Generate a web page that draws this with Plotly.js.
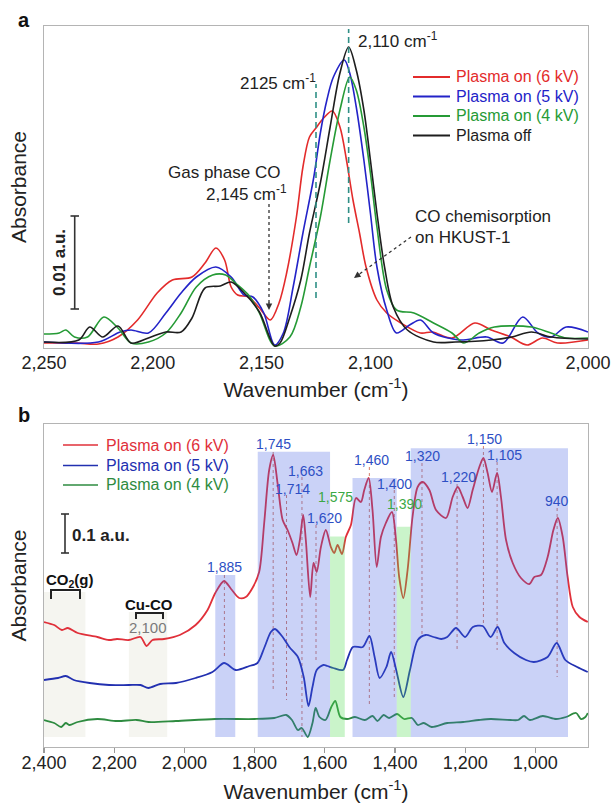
<!DOCTYPE html>
<html><head><meta charset="utf-8">
<script src="https://cdn.plot.ly/plotly-3.0.1.min.js"></script>
<style>html,body{margin:0;padding:0;background:#fff;} #chart{width:616px;height:803px;}</style>
</head><body><div id="chart"></div>
<script>
// ---------------- Panel a data (wavenumber cm-1, absorbance in arbitrary units; scale bar 0.01 a.u. = 93 units) -------------
const wnA_red = [2250, 2235, 2225, 2216, 2207, 2198, 2191, 2182, 2176, 2171, 2167, 2164, 2161, 2156, 2151, 2146, 2142, 2138.5, 2134, 2131, 2128, 2125, 2121.5, 2117.5, 2114, 2111, 2108, 2105, 2102, 2097, 2092.5, 2086, 2077, 2071.5, 2062.5, 2052, 2044.5, 2035.5, 2028, 2021, 2014, 2000];
const absA_red = [5, 5, 4, 11, 28, 55, 68, 71, 85, 100, 88, 61, 53, 51, 40, 28, 45, 75, 131, 181, 211, 220, 230, 237, 221, 188, 148, 115, 81, 48, 35, 25, 15, 16, 10, 25, 18, 11, 3, 10, 5, 8];
const wnA_blue = [2250, 2225, 2215, 2210, 2202, 2194, 2187, 2180, 2171, 2164, 2158, 2154, 2149, 2144, 2140, 2135.5, 2131, 2126, 2123, 2120, 2117, 2112, 2109.5, 2106.5, 2103, 2100, 2097, 2092.5, 2088, 2082, 2077, 2071, 2059, 2046.5, 2039, 2030, 2023, 2017, 2010, 2000];
const absA_blue = [6, 6, 16, 18, 15, 35, 55, 71, 81, 71, 53, 51, 35, 3, 15, 61, 115, 171, 215, 248, 271, 288, 275, 241, 188, 135, 81, 38, 15, 23, 28, 15, 8, 11, 5, 31, 15, 11, 21, 16];
const wnA_green = [2250, 2243, 2240, 2236, 2230, 2222.5, 2216, 2210, 2202, 2194, 2187, 2180, 2172.5, 2166.5, 2162, 2156, 2151, 2144, 2137, 2132, 2128, 2123, 2118.5, 2114, 2109.5, 2106.5, 2103, 2100, 2097, 2092.5, 2088, 2080, 2071, 2062.5, 2057, 2050, 2043, 2026, 2017, 2010, 2000];
const absA_green = [14, 15, 18, 11, 11, 31, 20, 5, 6, 15, 35, 61, 73, 73, 65, 53, 35, 2, 11, 41, 81, 131, 188, 238, 271, 258, 221, 175, 121, 58, 38, 35, 25, 15, 5, 15, 21, 21, 15, 10, 10];
const wnA_off = [2250, 2234, 2229, 2223, 2216, 2210, 2202, 2194, 2187, 2182, 2176, 2169, 2164, 2158, 2151, 2144, 2141.5, 2137, 2132, 2128, 2123, 2118.5, 2114, 2110, 2106.5, 2103, 2100, 2097, 2093.5, 2089.5, 2083, 2071, 2061, 2044.5, 2035, 2026, 2017, 2000];
const absA_off = [6, 8, 21, 11, 22, 5, 10, 16, 16, 30, 60, 62, 66, 55, 36, 2, 5, 31, 68, 115, 165, 221, 275, 301, 278, 238, 188, 135, 81, 41, 18, 6, 6, 8, 11, 16, 11, 9];
const ticksA = [2250, 2200, 2150, 2100, 2050, 2000];
const tickTextA = ['2,250', '2,200', '2,150', '2,100', '2,050', '2,000'];
const markA = [2125, 2110];
const seriesA = ['Plasma on (6 kV)', 'Plasma on (5 kV)', 'Plasma on (4 kV)', 'Plasma off'];

// ---------------- Panel b data -------------
const wnB_red = [2400, 2371, 2349, 2332, 2304, 2248, 2215, 2192, 2158.5, 2125, 2108, 2091, 2058, 2013, 1968, 1934, 1912, 1887, 1867, 1844, 1825, 1806, 1787, 1772.6, 1758.4, 1747, 1734.6, 1720, 1706, 1692, 1680.5, 1671, 1661.5, 1654, 1641.5, 1632, 1623, 1611, 1597, 1582.6, 1573, 1563.5, 1551, 1540, 1525.5, 1511, 1497, 1487.5, 1475, 1464, 1452, 1440, 1426, 1408.6, 1397, 1388, 1376, 1364, 1350, 1335.4, 1321, 1302, 1283, 1254.6, 1235.6, 1221, 1207, 1193, 1178.6, 1159.6, 1148, 1136, 1123.5, 1109, 1098, 1083.5, 1064.5, 1041, 1017, 1003, 984, 965, 948.6, 936, 922, 908, 893.4, 874.4, 850.7];
const absB_red = [125, 122, 117, 119, 114, 110, 107, 108, 107, 110, 101, 107, 108, 112, 122, 137, 154, 166, 158, 149, 150, 159, 175, 224, 277, 292, 264, 227, 217, 204, 192, 207, 232, 207, 150, 184, 175, 200, 217, 200, 194, 202, 193, 210, 222, 249, 245, 257, 269, 237, 180, 210, 224, 235, 207, 170, 149, 177, 230, 260, 265, 257, 237, 229, 250, 260, 250, 239, 257, 280, 289, 274, 255, 274, 250, 207, 184, 169, 163, 170, 172, 190, 217, 229, 210, 170, 140, 130, 125];
const wnB_blue = [2400, 2360, 2338, 2315, 2270, 2214.5, 2158.5, 2125, 2102.5, 2069, 2024, 1968, 1920, 1886.7, 1853.5, 1815, 1791.7, 1772.6, 1753.6, 1742, 1720, 1701, 1676.6, 1660, 1646.4, 1635, 1623, 1604, 1592.6, 1575.8, 1548, 1536.5, 1519.8, 1491.8, 1472.7, 1458, 1443.6, 1424.5, 1411, 1396.5, 1376.3, 1357.3, 1335, 1312.5, 1290, 1268, 1251, 1226, 1200.4, 1178, 1150, 1127.5, 1107.4, 1088.3, 1060.3, 1026.7, 1004, 965, 939.3, 914.6, 881, 850.8];
const absB_blue = [67, 69, 71, 67, 64, 62, 62, 62, 59, 63, 64, 69, 75, 84, 77, 81, 84, 99, 115, 118, 110, 100, 90, 70, 41, 60, 77, 82, 81, 79, 77, 87, 100, 100, 111, 90, 69, 80, 95, 77, 50, 77, 107, 112, 110, 108, 110, 119, 110, 120, 121, 110, 120, 104, 94, 87, 85, 90, 104, 87, 80, 75];
const wnB_green = [2400, 2371, 2351, 2338, 2327, 2304, 2248, 2192, 2136, 2102.5, 2024, 1912, 1800, 1744, 1710, 1693.5, 1676.6, 1665.5, 1648.6, 1635, 1626, 1615, 1598, 1581.4, 1570, 1555.6, 1536.5, 1514, 1486, 1464, 1450, 1432.4, 1416.6, 1394, 1374, 1351.7, 1335, 1318, 1295.6, 1251, 1206, 1161, 1127.5, 1071.5, 1049, 1032.3, 1015.5, 979, 941, 912.5, 884, 870, 857.4, 850.7];
const absB_green = [27, 24, 20, 24, 22, 25, 28, 26, 27, 25, 26, 28, 28, 29, 32, 27, 17, 19, 10, 24, 39, 30, 27, 40, 46, 30, 28, 30, 27, 31, 26, 32, 29, 33, 28, 29, 22, 24, 20, 24, 25, 27, 28, 27, 27, 31, 27, 31, 28, 30, 34, 28, 30, 34];
const ticksB = [2400, 2200, 2000, 1800, 1600, 1400, 1200, 1000];
const tickTextB = ['2,400', '2,200', '2,000', '1,800', '1,600', '1,400', '1,200', '1,000'];
const seriesB = ['Plasma on (6 kV)', 'Plasma on (5 kV)', 'Plasma on (4 kV)'];
// assigned bands (start, end wavenumber) and kinds
const bandStart = [1912, 1791, 1585, 1521, 1395, 1355];
const bandEnd   = [1855, 1585, 1543, 1395, 1355, 907];
const bandKind  = ['b', 'b', 'g', 'b', 'g', 'b'];
const grayStart = [2400, 2158];
const grayEnd   = [2282, 2049];
// marked peaks (dotted lines) and their labels
const peakWn    = [1886, 1747, 1709, 1665, 1625, 1473, 1402, 1323, 1223, 1148, 1109, 938];
const peakLabel = ['1,885', '1,745', '1,714', '1,663', '1,620', '1,575', '1,460', '1,400', '1,390', '1,320', '1,220', '1,150', '1,105', '940'];

// ---------------- layout helpers -------------
const FONT = 'Liberation Sans, Arial, Helvetica, sans-serif';
const W = 616, H = 803;
const M = {l: 44, r: 28, t: 26, b: 56};
const PX = x => (x - M.l) / (W - M.l - M.r);
const PY = y => (H - M.b - y) / (H - M.t - M.b);
const A_BOT = 348, A_TOP = 26, B_BOT = 747, B_TOP = 424;
const yA = y => A_BOT - y;   // pixel -> panel a value
const yB = y => B_BOT - y;   // pixel -> panel b value

const C = {
  aRed: '#e32b2b', aBlue: '#2323c8', aGreen: '#259a35', aBlack: '#1e1e1e',
  bRed: '#e0303a', bBlue: '#2230b0', bGreen: '#2e8b40',
  lblBlue: '#2d4fc4', lblGreen: '#3aa845', teal: '#2f8f86'
};
const colA = [C.aRed, C.aBlue, C.aGreen, C.aBlack];
const colB = [C.bRed, C.bBlue, C.bGreen];

function ann(x, y, text, o = {}) {
  return Object.assign({xref: 'paper', yref: 'paper', x: PX(x), y: PY(y), text: text, showarrow: false,
    xanchor: 'center', yanchor: 'middle', font: {family: FONT, size: 17, color: '#222'}}, o);
}
function pline(x0, y0, x1, y1, o = {}) {
  return Object.assign({type: 'line', xref: 'paper', yref: 'paper', x0: PX(x0), y0: PY(y0), x1: PX(x1), y1: PY(y1),
    line: {color: '#333', width: 1.6}}, o);
}

const dataA = [[wnA_red, absA_red], [wnA_blue, absA_blue], [wnA_green, absA_green], [wnA_off, absA_off]];
const traces = dataA.map((d, i) => ({type: 'scatter', mode: 'lines', x: d[0], y: d[1], name: seriesA[i], xaxis: 'x', yaxis: 'y',
  line: {color: colA[i], width: 1.6, shape: 'spline', smoothing: 0.9}, hoverinfo: 'skip', showlegend: false}));
const dataB = [[wnB_red, absB_red], [wnB_blue, absB_blue], [wnB_green, absB_green]];
const tracesB = dataB.map((d, i) => ({type: 'scatter', mode: 'lines', x: d[0], y: d[1], name: seriesB[i], xaxis: 'x2', yaxis: 'y2',
  line: {color: colB[i], width: 1.8, shape: 'spline', smoothing: 0.8}, hoverinfo: 'skip', showlegend: false}));

const axisCommon = {showgrid: false, zeroline: false, showline: true, mirror: true, linecolor: '#b4b4b4', linewidth: 1.4,
  tickfont: {family: FONT, size: 18, color: '#222'}, fixedrange: true};
const titleFont = {family: FONT, size: 21, color: '#222'};

const shapes = [];
const annotations = [];
// legends (drawn as keys)
const legARows = [77, 96.5, 116, 135.5];
seriesA.forEach((s, i) => {
  shapes.push(pline(413, legARows[i], 450, legARows[i], {line: {color: colA[i], width: 1.8}}));
  annotations.push(ann(454, legARows[i], s, {xanchor: 'left', font: {family: FONT, size: 16, color: colA[i]}}));
});
const legBRows = [445, 465.5, 485];
seriesB.forEach((s, i) => {
  shapes.push(pline(63, legBRows[i], 98, legBRows[i], {line: {color: colB[i], width: 1.6}}));
  annotations.push(ann(104, legBRows[i], s, {xanchor: 'left', font: {family: FONT, size: 16, color: colB[i]}}));
});
// panel a dashed markers
shapes.push({type: 'line', xref: 'x', yref: 'y', x0: markA[0], x1: markA[0], y0: yA(298), y1: yA(84), line: {color: C.teal, width: 1.6, dash: '6px,4px'}});
shapes.push({type: 'line', xref: 'x', yref: 'y', x0: markA[1], x1: markA[1], y0: yA(223), y1: yA(29), line: {color: C.teal, width: 1.6, dash: '6px,4px'}});
// dotted arrows (panel a)
shapes.push(pline(269, 204, 269, 306, {line: {color: '#333', width: 1.3, dash: 'dot'}}));
shapes.push(pline(411, 237, 358, 275, {line: {color: '#333', width: 1.3, dash: 'dot'}}));
// scale bar a
shapes.push(pline(74.7, 216, 74.7, 309));
shapes.push(pline(70.5, 216, 79, 216));
shapes.push(pline(70.5, 309, 79, 309));
// scale bar b
shapes.push(pline(65, 514, 65, 553));
shapes.push(pline(61, 514, 69, 514));
shapes.push(pline(61, 553, 69, 553));
// brackets b
function bracket(x0, x1, yt, yb) {
  return {type: 'path', xref: 'paper', yref: 'paper',
    path: `M ${PX(x0)},${PY(yb)} L ${PX(x0)},${PY(yt)} L ${PX(x1)},${PY(yt)} L ${PX(x1)},${PY(yb)}`,
    line: {color: '#222', width: 2}};
}
shapes.push(bracket(51, 80, 590, 599));
shapes.push(bracket(136, 163, 613, 619));
// gray bands
const grayTop = [yB(592), yB(612)];
grayStart.forEach((s, i) => shapes.push({type: 'rect', xref: 'x2', yref: 'y2', x0: s, x1: grayEnd[i], y0: yB(737), y1: grayTop[i],
  fillcolor: 'rgba(190,190,160,0.16)', line: {width: 0}, layer: 'below'}));
// peak dotted lines
const peakTop = [575, 452, 495, 477, 525, 467, 490, 463, 484, 446, 462, 508];
const peakBot = [657, 690, 700, 737, 663, 707, 697, 637, 650, 627, 650, 677];
peakWn.forEach((w, i) => shapes.push({type: 'line', xref: 'x2', yref: 'y2', x0: w, x1: w, y0: yB(peakTop[i]), y1: yB(peakBot[i]),
  line: {color: 'rgba(205,105,80,0.85)', width: 1, dash: 'dot'}, layer: 'below'}));
// assignment bands (translucent, drawn over the spectra)
const bandTop = [575, 451.7, 536.5, 478, 526.7, 448.3];
bandStart.forEach((s, i) => shapes.push({type: 'rect', xref: 'x2', yref: 'y2', x0: s, x1: bandEnd[i], y0: yB(737), y1: yB(bandTop[i]),
  fillcolor: bandKind[i] === 'b' ? 'rgba(65,95,225,0.28)' : 'rgba(80,220,80,0.30)', line: {width: 0}, layer: 'above'}));

annotations.push(
  ann(24, 20, '<b>a</b>', {font: {family: FONT, size: 20, color: '#111'}}),
  ann(24, 415, '<b>b</b>', {font: {family: FONT, size: 20, color: '#111'}}),
  ann(356, 40, '2,110 cm<sup>-1</sup>', {xanchor: 'left'}),
  ann(318, 82, '2125 cm<sup>-1</sup>', {xanchor: 'right'}),
  ann(224, 172, 'Gas phase CO'),
  ann(246, 193, '2,145 cm<sup>-1</sup>'),
  ann(413, 216, 'CO chemisorption', {xanchor: 'left'}),
  ann(413, 237, 'on HKUST-1', {xanchor: 'left'}),
  ann(59, 263, '<b>0.01 a.u.</b>', {textangle: -90}),
  ann(70, 535, '<b>0.1 a.u.</b>', {xanchor: 'left'}),
  ann(70, 580, '<b>CO<sub>2</sub>(g)</b>', {font: {family: FONT, size: 15, color: '#111'}}),
  ann(149, 604, '<b>Cu-CO</b>', {font: {family: FONT, size: 15, color: '#111'}}),
  ann(148, 627, '2,100', {font: {family: FONT, size: 15, color: '#7a7a7a'}}),
  // arrowheads
  {xref: 'paper', yref: 'paper', x: PX(269), y: PY(310), ax: 0, ay: -9, text: '', showarrow: true, arrowhead: 2, arrowsize: 1, arrowwidth: 1.3, arrowcolor: '#333'},
  {xref: 'paper', yref: 'paper', x: PX(354), y: PY(278), ax: 7, ay: -5, text: '', showarrow: true, arrowhead: 2, arrowsize: 1, arrowwidth: 1.3, arrowcolor: '#333'}
);
const peakPos = [[224.7, 567], [273.3, 444], [292, 489], [305, 471], [324, 518], [335.4, 497], [371, 460], [394.4, 484], [404, 504],
  [422.5, 456], [458, 477], [484, 439], [504, 455], [556.7, 501]];
peakLabel.forEach((t, i) => {
  const green = (t === '1,575' || t === '1,390');
  annotations.push(ann(peakPos[i][0], peakPos[i][1], t, {font: {family: FONT, size: 14, color: green ? C.lblGreen : C.lblBlue}}));
});

const layout = {
  width: W, height: H, margin: M, paper_bgcolor: '#fff', plot_bgcolor: 'rgba(0,0,0,0)',
  font: {family: FONT, color: '#222'}, showlegend: false,
  xaxis: Object.assign({}, axisCommon, {domain: [0, 1], anchor: 'y', range: [2250, 2000], tickvals: ticksA, ticktext: tickTextA, ticks: '',
    ticklabelstandoff: -2, title: {text: 'Wavenumber (cm<sup>-1</sup>)', font: titleFont, standoff: 10}}),
  yaxis: Object.assign({}, axisCommon, {domain: [1 - (A_BOT - A_TOP) / (H - M.t - M.b), 1], anchor: 'x', range: [0, A_BOT - A_TOP],
    showticklabels: false, ticks: '', title: {text: 'Absorbance', font: titleFont, standoff: 10}}),
  xaxis2: Object.assign({}, axisCommon, {domain: [0, 1], anchor: 'y2', range: [2400, 850], tickvals: ticksB, ticktext: tickTextB,
    ticks: 'outside', ticklen: 5, tickcolor: '#999', tickwidth: 1.2, ticklabelstandoff: -6,
    title: {text: 'Wavenumber (cm<sup>-1</sup>)', font: titleFont, standoff: 16}}),
  yaxis2: Object.assign({}, axisCommon, {domain: [0, (B_BOT - B_TOP) / (H - M.t - M.b)], anchor: 'x2', range: [0, B_BOT - B_TOP],
    showticklabels: false, ticks: '', title: {text: 'Absorbance', font: titleFont, standoff: 10}}),
  shapes: shapes, annotations: annotations
};

Plotly.newPlot('chart', traces.concat(tracesB), layout, {displayModeBar: false, staticPlot: true});
</script></body></html>
